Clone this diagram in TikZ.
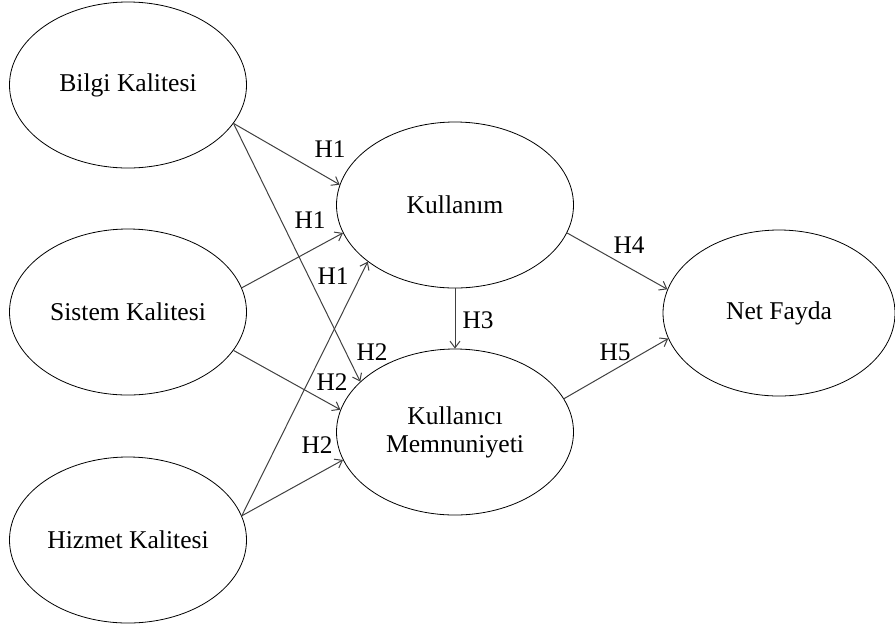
\documentclass[tikz,border=0pt]{standalone}
\usepackage{fontspec}
\setmainfont{Liberation Serif}
\usetikzlibrary{shapes.geometric,arrows.meta}
\tikzset{
  construct/.style={ellipse,draw=black,line width=0.6pt,minimum width=177.75pt,minimum height=124.5pt,inner sep=0pt,align=center,font=\fontsize{19.2}{21}\selectfont},
  hyp/.style={font=\fontsize{19}{21}\selectfont,inner sep=0pt},
  link/.style={draw=black!75,line width=0.75pt,-{Straight Barb[length=5pt,width=7.5pt]}},
}
\begin{document}
\begin{tikzpicture}[x=0.75pt,y=-0.75pt]
\useasboundingbox (0,0) rectangle (895,626);
\node[construct] (bilgi) at (128,85) {Bilgi Kalitesi};
\node[construct] (sistem) at (128,312) {Sistem Kalitesi};
\node[construct] (hizmet) at (128,540) {Hizmet Kalitesi};
\node[construct] (kul) at (455,205) {Kullanım};
\node[construct] (mem) at (455,432) {Kullanıcı\\Memnuniyeti};
\node[construct,minimum width=174pt] (net) at (779,313) {Net Fayda};

\draw[link] (bilgi.-20) -- (kul.170);
\draw[link] (bilgi.-20) -- (mem.152.5);
\draw[link] (sistem.12) -- (kul.-166);
\draw[link] (sistem.-20) -- (mem.169);
\draw[link] (hizmet.12.5) -- (kul.-147.5);
\draw[link] (hizmet.12.5) -- (mem.-166);
\draw[link] (kul.south) -- (mem.north);
\draw[link] (kul.-14) -- (net.168.5);
\draw[link] (mem.17) -- (net.-167);

\node[hyp] (h1a) at (330,149) {H1};
\node[hyp] (h1b) at (310,220) {H1};
\node[hyp] (h1c) at (333,276) {H1};
\node[hyp] (h2a) at (372,352) {H2};
\node[hyp] (h2b) at (332,382) {H2};
\node[hyp] (h2c) at (317,445) {H2};
\node[hyp] (h3) at (478,320) {H3};
\node[hyp] (h4) at (629,245) {H4};
\node[hyp] (h5) at (615,352) {H5};
\end{tikzpicture}
\end{document}
